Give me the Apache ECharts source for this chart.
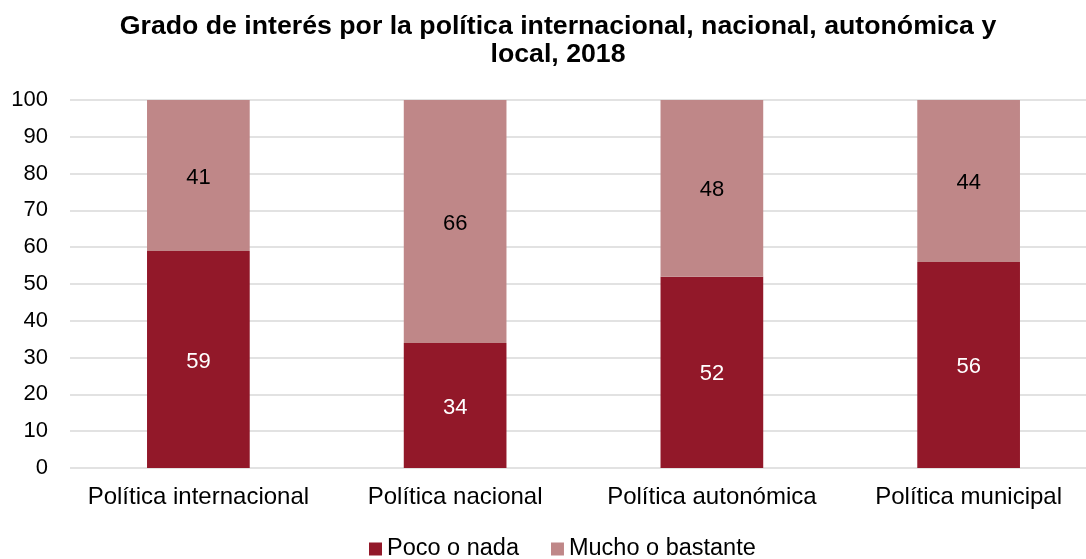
<!DOCTYPE html>
<html><head><meta charset="utf-8">
<script src="https://cdn.jsdelivr.net/npm/echarts@6/dist/echarts.min.js"></script>
<style>html,body{margin:0;padding:0;background:#fff}#c{width:1086px;height:559px}</style>
</head><body><div id="c"></div>
<script>
const categories = ["Política internacional", "Política nacional", "Política autonómica", "Política municipal"];
const pocoNada = [59, 34, 52, 56];
const muchoBastante = [41, 66, 48, 44];
const seriesNames = ["Poco o nada", "Mucho o bastante"];
const yTicks = [0, 100, 10];

const chart = echarts.init(document.getElementById('c'), null, {renderer: 'canvas'});
const font = "'Liberation Sans', Arial, sans-serif";
chart.setOption({
  animation: false,
  textStyle: {fontFamily: font},
  title: {
    text: "Grado de interés por la política internacional, nacional, autonómica y\nlocal, 2018",
    left: 553, top: 8, textAlign: 'center',
    textStyle: {fontFamily: font, fontSize: 26.7, fontWeight: 'bold', color: '#000', lineHeight: 28}
  },
  legend: {
    bottom: -7, left: 364, itemWidth: 13, itemHeight: 13, itemGap: 32,
    icon: 'rect',
    textStyle: {fontFamily: font, fontSize: 23.5, color: '#000', padding: [0,0,0,0]},
    data: seriesNames
  },
  grid: {left: 70, right: -11, top: 100, bottom: 91, containLabel: false, outerBoundsMode: 'none'},
  xAxis: {
    type: 'category', data: categories,
    axisLine: {show: false}, axisTick: {show: false},
    axisLabel: {fontFamily: font, fontSize: 24, color: '#000', margin: 17, interval: 0}
  },
  yAxis: {
    type: 'value', min: yTicks[0], max: yTicks[1], interval: yTicks[2],
    axisLine: {show: false}, axisTick: {show: false},
    axisLabel: {fontFamily: font, fontSize: 22, color: '#000', margin: 22},
    splitLine: {lineStyle: {color: '#d9d9d9', width: 1.5}}
  },
  series: [
    {name: seriesNames[0], type: 'bar', stack: 's', data: pocoNada, barCategoryGap: '60%',
     itemStyle: {color: '#921829'},
     label: {show: true, position: 'inside', color: '#fff', fontFamily: font, fontSize: 22, offset: [0, 2]}},
    {name: seriesNames[1], type: 'bar', stack: 's', data: muchoBastante, barCategoryGap: '60%',
     itemStyle: {color: '#bf8788'},
     label: {show: true, position: 'inside', color: '#000', fontFamily: font, fontSize: 22, offset: [0, 2]}}
  ]
});
</script></body></html>
